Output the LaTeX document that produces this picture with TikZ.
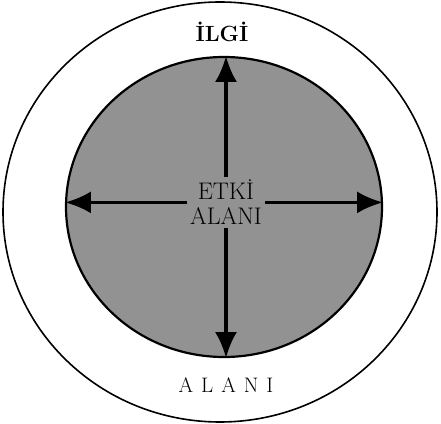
\documentclass[tikz,border=0pt]{standalone}
\usepackage{tikz}
\usetikzlibrary{positioning,shapes.geometric,arrows.meta}
\usepackage{xcolor}
\definecolor{fieldgray}{RGB}{146,146,146}

\begin{document}
\begin{tikzpicture}[x=1pt, y=1pt, >={Latex[length=26pt,width=22pt]},
        ring/.style={draw, ellipse, inner sep=0pt},
        areatext/.style={inner sep=3pt, font=\fontsize{24}{25}\selectfont},
        reach/.style={->, line width=3.5pt}]
        \useasboundingbox (0,0) rectangle (441,423);

        \node[ring, line width=1.6pt, minimum width=434pt, minimum height=420pt] (ilgi) at (220,211) {};
        \node[ring, fill=fieldgray, line width=2.2pt, minimum width=316pt, minimum height=300pt] (etki) at (224,216) {};

        \node[areatext, align=center, anchor=south] (etkitext) at (226,195) {ETKİ\\ALANI};
        \node[areatext, font=\fontsize{22}{24}\selectfont\bfseries] (ilgitop) at (222,391) {İLGİ};
        \node[areatext, font=\fontsize{21}{24}\selectfont] (ilgibottom) at (226,38) {A\hspace{8pt}L\hspace{8pt}A\hspace{8pt}N\hspace{8pt}I};

        \draw[reach] (etkitext.north) -- (etkitext.north |- etki.north);
        \draw[reach] (etkitext.south) -- (etkitext.south |- etki.south);
        \draw[reach] (etkitext.west) -- (etkitext.west -| etki.west);
        \draw[reach] (etkitext.east) -- (etkitext.east -| etki.east);
    \end{tikzpicture}
\end{document}
